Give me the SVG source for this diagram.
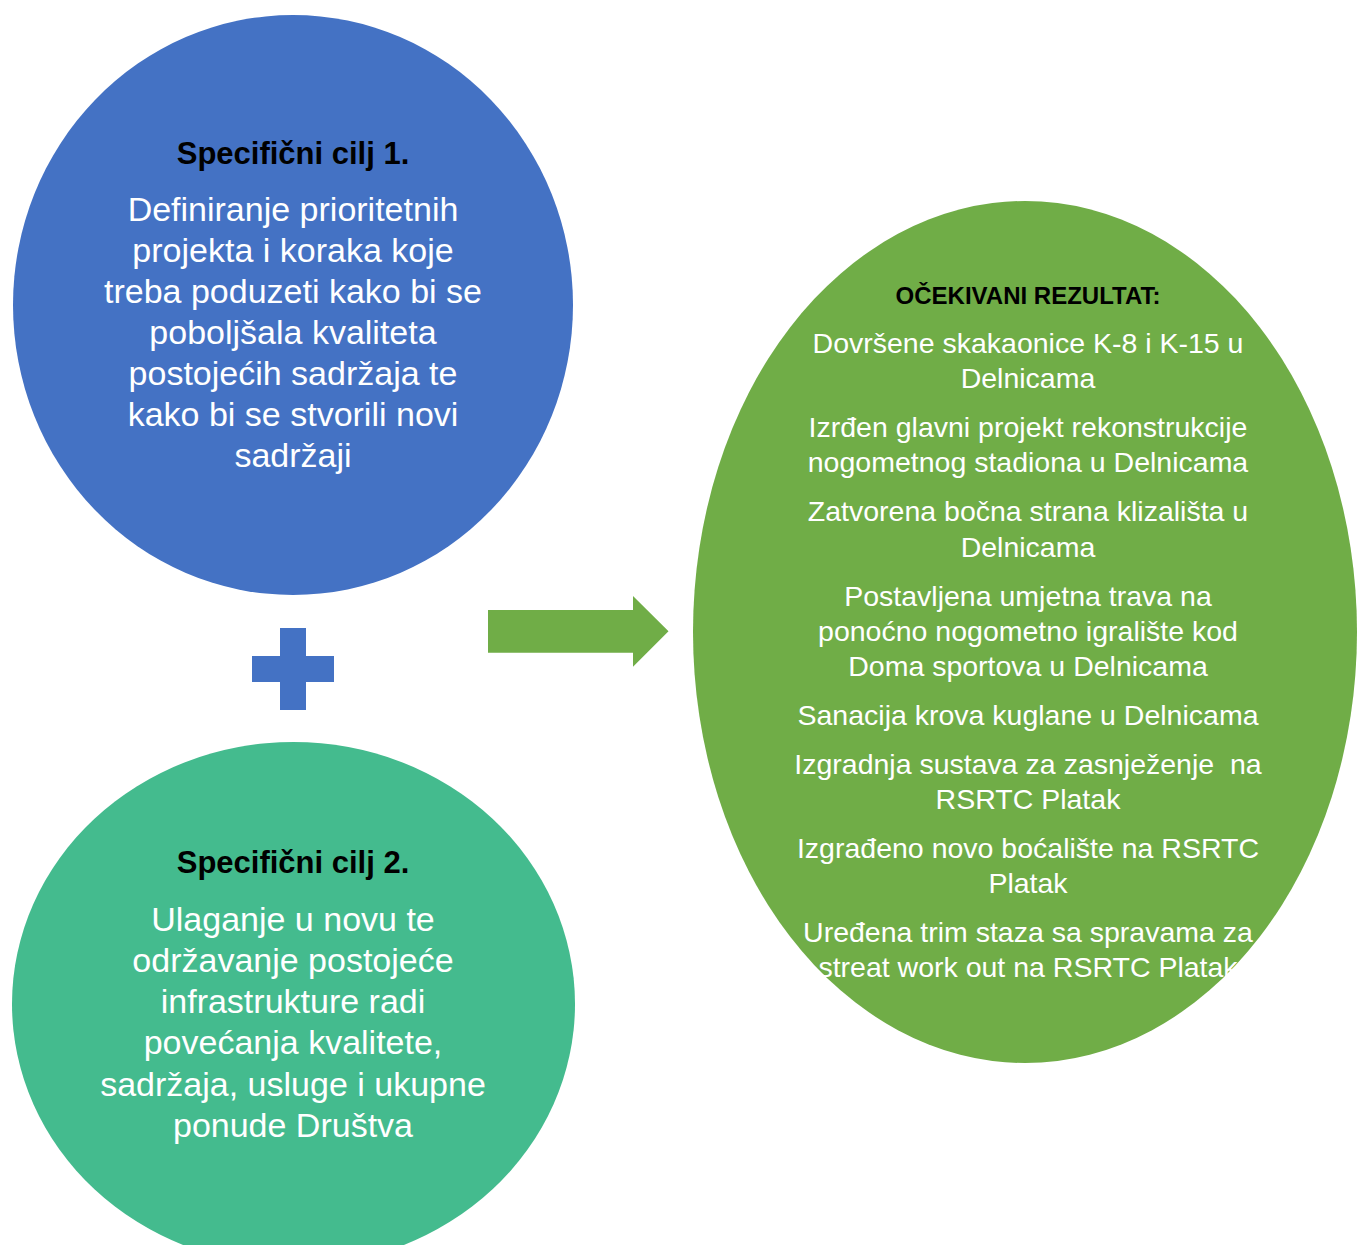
<svg xmlns="http://www.w3.org/2000/svg" width="1357" height="1245" viewBox="0 0 1357 1245">
<style>
.t{font-family:"Liberation Sans",Arial,sans-serif;fill:#fff;text-anchor:middle}
.h{font-family:"Liberation Sans",Arial,sans-serif;fill:#000;font-weight:bold;text-anchor:middle}
.b1{font-size:34px}
.g{font-size:28.5px}
</style>
<rect width="1357" height="1245" fill="#fff"/>
<g id="goal1">
<ellipse cx="293" cy="305" rx="280" ry="290" fill="#4472C4"/>
<text class="h" x="293" y="164" font-size="31">Specifični cilj 1.</text>
<text class="t b1" x="293" y="221">Definiranje prioritetnih</text>
<text class="t b1" x="293" y="262">projekta i koraka koje</text>
<text class="t b1" x="293" y="303">treba poduzeti kako bi se</text>
<text class="t b1" x="293" y="344">poboljšala kvaliteta</text>
<text class="t b1" x="293" y="385">postojećih sadržaja te</text>
<text class="t b1" x="293" y="426">kako bi se stvorili novi</text>
<text class="t b1" x="293" y="467">sadržaji</text>
</g>
<g id="plus">
<path d="M280,628 H306 V656 H334 V682 H306 V710 H280 V682 H252 V656 H280 Z" fill="#4472C4"/>
</g>
<g id="goal2">
<ellipse cx="293.5" cy="1004" rx="281.5" ry="262" fill="#44BB8E"/>
<text class="h" x="293" y="873" font-size="31">Specifični cilj 2.</text>
<text class="t b1" x="293" y="931">Ulaganje u novu te</text>
<text class="t b1" x="293" y="972">održavanje postojeće</text>
<text class="t b1" x="293" y="1013">infrastrukture radi</text>
<text class="t b1" x="293" y="1054">povećanja kvalitete,</text>
<text class="t b1" x="293" y="1096">sadržaja, usluge i ukupne</text>
<text class="t b1" x="293" y="1137">ponude Društva</text>
</g>
<g id="connectors">
<path d="M488,610 H633 V596 L668.5,631.3 L633,666.7 V652.7 H488 Z" fill="#70AD47"/>
</g>
<g id="result">
<ellipse cx="1025" cy="632" rx="332" ry="431" fill="#70AD47"/>
<text class="h" x="1028" y="304" font-size="24">OČEKIVANI REZULTAT:</text>
<text class="t g" x="1028" y="353">Dovršene skakaonice K-8 i K-15 u</text>
<text class="t g" x="1028" y="388">Delnicama</text>
<text class="t g" x="1028" y="437">Izrđen glavni projekt rekonstrukcije</text>
<text class="t g" x="1028" y="472">nogometnog stadiona u Delnicama</text>
<text class="t g" x="1028" y="521">Zatvorena bočna strana klizališta u</text>
<text class="t g" x="1028" y="557">Delnicama</text>
<text class="t g" x="1028" y="606">Postavljena umjetna trava na</text>
<text class="t g" x="1028" y="641">ponoćno nogometno igralište kod</text>
<text class="t g" x="1028" y="676">Doma sportova u Delnicama</text>
<text class="t g" x="1028" y="725">Sanacija krova kuglane u Delnicama</text>
<text class="t g" x="1028" y="774" xml:space="preserve">Izgradnja sustava za zasnježenje  na</text>
<text class="t g" x="1028" y="809">RSRTC Platak</text>
<text class="t g" x="1028" y="858">Izgrađeno novo boćalište na RSRTC</text>
<text class="t g" x="1028" y="893">Platak</text>
<text class="t g" x="1028" y="942">Uređena trim staza sa spravama za</text>
<text class="t g" x="1028" y="977">streat work out na RSRTC Platak</text>
</g>
</svg>
